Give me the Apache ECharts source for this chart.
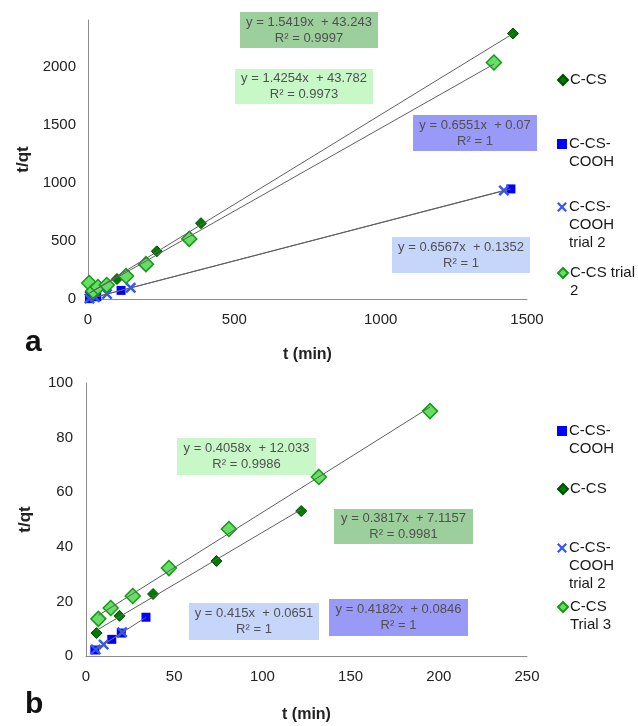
<!DOCTYPE html>
<html>
<head>
<meta charset="utf-8">
<script src="https://cdn.jsdelivr.net/npm/echarts@6/dist/echarts.min.js"></script>
<style>html,body{margin:0;padding:0;background:#fff}#c{width:638px;height:726px}</style>
</head>
<body>
<div id="c"></div>
<script>
// ---------- Panel a data ----------
const aCCS_x = [8, 30, 60, 99, 235, 386, 1452];
const aCCS_y = [60, 90, 125, 172, 410, 652, 2284];
const aCOOH_x = [5, 30, 113, 1445];
const aCOOH_y = [3.3, 20, 74, 947];
const aCOOH2_x = [5, 24, 65, 146, 1421];
const aCOOH2_y = [3.4, 16, 43, 96, 933];
const aTrial2_x = [4, 18, 34, 64, 130, 198, 346, 1387];
const aTrial2_y = [138, 69, 103, 120, 198, 300, 517, 2034];
// trendline coefficients (slope, intercept) as labelled on the chart
const aFitCCS = [1.5419, 43.243];
const aFitTrial2 = [1.4254, 43.782];
const aFitCOOH = [0.6551, 0.07];
const aFitCOOH2 = [0.6567, 0.1352];
const aXTicks = [0, 500, 1000, 1500];
const aYTicks = [0, 500, 1000, 1500, 2000];

// ---------- Panel b data ----------
const bCCS_x = [6, 19, 38, 74, 122];
const bCCS_y = [8.4, 14.7, 22.7, 34.8, 53.1];
const bCOOH_x = [5, 14.6, 20, 34];
const bCOOH_y = [2.2, 6.1, 8.4, 14.2];
const bCOOH2_x = [5.5, 10, 20.5];
const bCOOH2_y = [2.4, 4.2, 8.7];
const bTrial3_x = [7, 14, 26.5, 47, 81, 132, 195];
const bTrial3_y = [13.6, 17.6, 22, 32.2, 46.5, 65.6, 89.7];
const bFitCCS = [0.3817, 7.1157];
const bFitTrial3 = [0.4058, 12.033];
const bFitCOOH = [0.415, 0.0651];
const bFitCOOH2 = [0.4182, 0.0846];
const bXTicks = [0, 50, 100, 150, 200, 250];
const bYTicks = [0, 20, 40, 60, 80, 100];

const zip = (xs, ys) => xs.map((x, i) => [x, ys[i]]);
const fitLine = (xs, fit) => {
  const lo = Math.min(...xs), hi = Math.max(...xs);
  return [[lo, fit[0] * lo + fit[1]], [hi, fit[0] * hi + fit[1]]];
};

const FONT = 'Liberation Sans, Arial, sans-serif';
const X_PATH = 'path://M0,1.6 L1.6,0 L10,8.4 L8.4,10 Z M8.4,0 L10,1.6 L1.6,10 L0,8.4 Z';

const dark = {symbol: 'diamond', symbolSize: 11, itemStyle: {color: '#007a00', borderColor: '#004d00', borderWidth: 1, opacity: 1}};
const light = {symbol: 'diamond', symbolSize: 15, itemStyle: {color: '#66dd66', borderColor: '#169a16', borderWidth: 1.5, opacity: 1}};
const square = {symbol: 'rect', symbolSize: 9, itemStyle: {color: '#0000ff', opacity: 1}};
const cross = {symbol: X_PATH, symbolSize: 11, itemStyle: {color: '#3355ff', opacity: 1}};

function scatter(name, gi, data, st) {
  return Object.assign({type: 'scatter', name, xAxisIndex: gi, yAxisIndex: gi, data, z: 3}, st);
}
function trend(gi, data) {
  return {type: 'line', xAxisIndex: gi, yAxisIndex: gi, data, symbol: 'none', silent: true,
    lineStyle: {color: '#606060', width: 1}, z: 4};
}

const labelMap = {
  'a1': 'C-CS', 'a2': 'C-CS-\nCOOH', 'a3': 'C-CS-\nCOOH\ntrial 2', 'a4': 'C-CS trial\n2',
  'b1': 'C-CS-\nCOOH', 'b2': 'C-CS', 'b3': 'C-CS-\nCOOH\ntrial 2', 'b4': 'C-CS\nTrial 3'
};
const LH = 18;
function legendItem(name, icon, firstLineCenter) {
  const n = labelMap[name].split('\n').length;
  const item = {name};
  if (icon) item.icon = icon;
  return {
    data: [item], orient: 'vertical', left: 557, padding: 0,
    top: firstLineCenter - (2 * n - 1) * LH / 2,
    itemWidth: 10, itemHeight: 10, itemGap: 0, selectedMode: false,
    formatter: nm => '\n'.repeat(n - 1) + labelMap[nm],
    textStyle: {fontFamily: FONT, fontSize: 15, color: '#1a1a1a', lineHeight: LH, padding: [0, 0, 0, -3]}
  };
}

function box(x, y, w, h, fill, l1, l2) {
  return {
    type: 'group', left: x, top: y, children: [
      {type: 'rect', shape: {x: 0, y: 0, width: w, height: h}, style: {fill}},
      {type: 'text', x: w / 2, y: h / 2 - 8, style: {text: l1, fill: '#505050', font: '13px ' + FONT, textAlign: 'center', textVerticalAlign: 'middle'}},
      {type: 'text', x: w / 2, y: h / 2 + 8, style: {text: l2, fill: '#505050', font: '13px ' + FONT, textAlign: 'center', textVerticalAlign: 'middle'}}
    ]
  };
}

const plain = v => String(v);
const axisCommon = {
  axisLine: {lineStyle: {color: '#8c8c8c', width: 1}},
  axisTick: {show: false},
  splitLine: {show: false},
  nameTextStyle: {fontFamily: FONT, fontSize: 16, fontWeight: 'bold', color: '#222'}
};
const lab = extra => Object.assign({fontFamily: FONT, fontSize: 15, color: '#222', formatter: plain}, extra);

const option = {
  animation: false,
  grid: [
    {left: 88, right: 111, top: 20, bottom: 427},
    {left: 86, right: 111, top: 383, bottom: 70}
  ],
  xAxis: [
    Object.assign({}, axisCommon, {type: 'value', gridIndex: 0, min: aXTicks[0], max: aXTicks[aXTicks.length - 1], interval: aXTicks[1] - aXTicks[0],
      name: 't (min)', nameLocation: 'middle', nameGap: 48, axisLabel: lab({margin: 13})}),
    Object.assign({}, axisCommon, {type: 'value', gridIndex: 1, min: bXTicks[0], max: bXTicks[bXTicks.length - 1], interval: bXTicks[1] - bXTicks[0],
      name: 't (min)', nameLocation: 'middle', nameGap: 51, axisLabel: lab({margin: 13})})
  ],
  yAxis: [
    Object.assign({}, axisCommon, {type: 'value', gridIndex: 0, min: aYTicks[0], max: 2400, interval: aYTicks[1] - aYTicks[0],
      axisLabel: lab({showMaxLabel: false, margin: 12}),
      name: 't/qt', nameLocation: 'middle', nameGap: 54,
      nameTextStyle: Object.assign({}, axisCommon.nameTextStyle, {fontSize: 17})}),
    Object.assign({}, axisCommon, {type: 'value', gridIndex: 1, min: bYTicks[0], max: bYTicks[bYTicks.length - 1], interval: bYTicks[1] - bYTicks[0],
      axisLabel: lab({margin: 13}),
      name: 't/qt', nameLocation: 'middle', nameGap: 52,
      nameTextStyle: Object.assign({}, axisCommon.nameTextStyle, {fontSize: 17})})
  ],
  legend: [
    legendItem('a1', 'diamond', 80),
    legendItem('a2', 'rect', 144),
    legendItem('a3', X_PATH, 207),
    legendItem('a4', 'diamond', 273),
    legendItem('b1', 'rect', 431),
    legendItem('b2', 'diamond', 489),
    legendItem('b3', X_PATH, 548),
    legendItem('b4', 'diamond', 607)
  ],
  series: [
    trend(0, fitLine(aCCS_x, aFitCCS)),
    trend(0, fitLine(aTrial2_x, aFitTrial2)),
    trend(0, fitLine(aCOOH_x, aFitCOOH)),
    trend(0, fitLine(aCOOH2_x, aFitCOOH2)),
    scatter('a1', 0, zip(aCCS_x, aCCS_y), dark),
    scatter('a2', 0, zip(aCOOH_x, aCOOH_y), square),
    scatter('a3', 0, zip(aCOOH2_x, aCOOH2_y), cross),
    scatter('a4', 0, zip(aTrial2_x, aTrial2_y), light),
    trend(1, fitLine(bCCS_x, bFitCCS)),
    trend(1, fitLine(bTrial3_x, bFitTrial3)),
    trend(1, fitLine(bCOOH_x, bFitCOOH)),
    trend(1, fitLine(bCOOH2_x, bFitCOOH2)),
    scatter('b1', 1, zip(bCOOH_x, bCOOH_y), square),
    scatter('b2', 1, zip(bCCS_x, bCCS_y), dark),
    scatter('b3', 1, zip(bCOOH2_x, bCOOH2_y), cross),
    scatter('b4', 1, zip(bTrial3_x, bTrial3_y), light)
  ],
  graphic: [
    box(240, 12, 138, 36, '#9dcf9d', 'y = 1.5419x  + 43.243', 'R² = 0.9997'),
    box(235, 69, 138, 35, '#c8f8c8', 'y = 1.4254x  + 43.782', 'R² = 0.9973'),
    box(413, 115, 124, 36, '#9999f7', 'y = 0.6551x  + 0.07', 'R² = 1'),
    box(392, 237, 138, 36, '#c6d6fa', 'y = 0.6567x  + 0.1352', 'R² = 1'),
    box(177, 438, 139, 37, '#c8f8c8', 'y = 0.4058x  + 12.033', 'R² = 0.9986'),
    box(334, 509, 139, 35, '#9dcf9d', 'y = 0.3817x  + 7.1157', 'R² = 0.9981'),
    box(189, 603, 130, 37, '#c6d6fa', 'y = 0.415x  + 0.0651', 'R² = 1'),
    box(329, 599, 139, 37, '#9999f7', 'y = 0.4182x  + 0.0846', 'R² = 1'),
    {type: 'text', left: 25, top: 328, style: {text: 'a', font: 'bold 30px ' + FONT, fill: '#111'}},
    {type: 'text', left: 25, top: 690, style: {text: 'b', font: 'bold 30px ' + FONT, fill: '#111'}}
  ]
};

const chart = echarts.init(document.getElementById('c'), null, {renderer: 'canvas'});
chart.setOption(option);
</script>
</body>
</html>
